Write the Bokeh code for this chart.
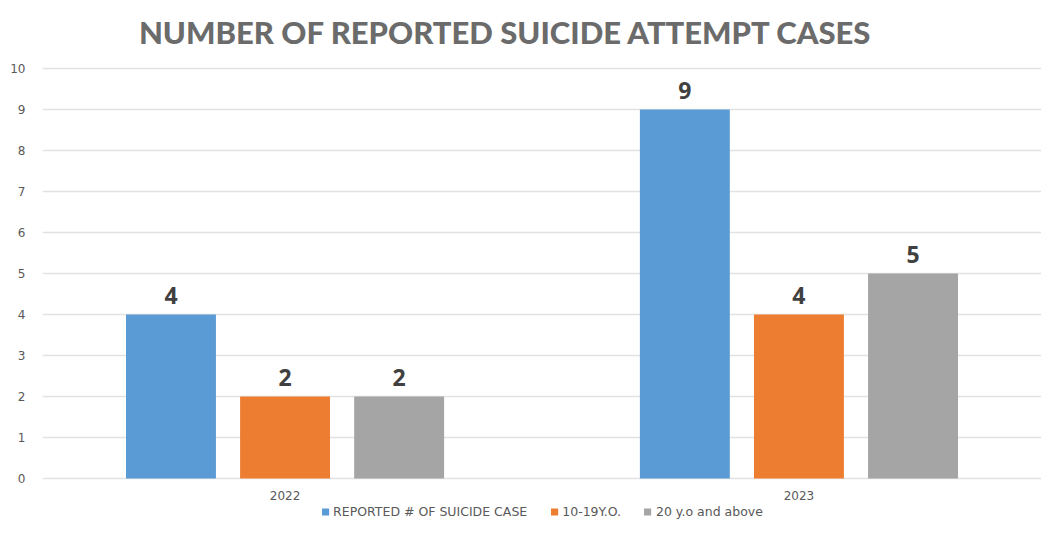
from bokeh.plotting import figure
from bokeh.models import (ColumnDataSource, FactorRange, Range1d, FixedTicker,
                          Legend, LegendItem, Label)
from bokeh.transform import dodge
from bokeh.core.properties import value
from bokeh.embed import file_html
from bokeh.resources import INLINE

# ---- data ----
years = ["2022", "2023"]
series_names = ["REPORTED # OF SUICIDE CASE", "10-19Y.O.", "20 y.o and above"]
reported = [4, 9]
age_10_19 = [2, 4]
age_20_up = [2, 5]
y_ticks = [0, 1, 2, 3, 4, 5, 6, 7, 8, 9, 10]
title_text = "NUMBER OF REPORTED SUICIDE ATTEMPT CASES"

colors = ["#5B9BD5", "#ED7D31", "#A5A5A5"]
offsets = [-0.222, 0.0, 0.222]
bar_w = 0.175

src = ColumnDataSource(dict(
    years=years,
    s0=reported, s1=age_10_19, s2=age_20_up,
    t0=[str(v) for v in reported],
    t1=[str(v) for v in age_10_19],
    t2=[str(v) for v in age_20_up],
))

W, H = 1041, 519
p = figure(width=W, height=H, output_backend="svg", toolbar_location=None,
           x_range=FactorRange(*years, range_padding=-0.028,
                               range_padding_units="absolute"),
           y_range=Range1d(-1.0, 11.659),
           min_border_left=42, min_border_right=0, min_border_top=0,
           min_border_bottom=0)
p.outline_line_color = None
p.background_fill_color = "white"
p.border_fill_color = "white"

renderers = []
for i, key in enumerate(["s0", "s1", "s2"]):
    r = p.vbar(x=dodge("years", offsets[i], range=p.x_range), top=key,
               width=bar_w, bottom=0, source=src, fill_color=colors[i],
               line_color=None)
    renderers.append(r)
    p.text(x=dodge("years", offsets[i], range=p.x_range), y=key,
           text="t%d" % i, source=src, text_align="center",
           text_baseline="bottom", y_offset=-11,
           text_font=value("Open Sans"), text_font_style="bold",
           text_font_size="23px", text_color="#404040")

# axes
p.yaxis.ticker = FixedTicker(ticks=y_ticks)
p.yaxis.axis_line_color = None
p.yaxis.major_tick_line_color = None
p.yaxis.minor_tick_line_color = None
p.yaxis.major_label_standoff = 11
p.yaxis.major_label_text_font = "DejaVu Sans"
p.yaxis.major_label_text_font_size = "12px"
p.yaxis.major_label_text_color = "#595959"

p.xaxis.fixed_location = 0
p.xaxis.axis_line_color = None
p.xaxis.major_tick_line_color = None
p.xaxis.minor_tick_line_color = None
p.xaxis.major_label_standoff = 6
p.xaxis.major_label_text_font = "DejaVu Sans"
p.xaxis.major_label_text_font_size = "12px"
p.xaxis.major_label_text_color = "#595959"

p.xgrid.grid_line_color = None
p.ygrid.grid_line_color = "#E2E2E2"
p.ygrid.grid_line_width = 1.5

# legend
legend = Legend(items=[LegendItem(label=series_names[i], renderers=[renderers[i]])
                       for i in range(3)],
                location="bottom_center", orientation="horizontal")
legend.border_line_color = None
legend.background_fill_alpha = 0
legend.label_text_font = "DejaVu Sans"
legend.label_text_font_size = "12.5px"
legend.label_text_color = "#595959"
legend.glyph_width = 9
legend.glyph_height = 9
legend.label_standoff = 4
legend.spacing = 22
legend.padding = 0
legend.margin = 0
p.add_layout(legend)

# title
title = Label(x=1.0, y=10, x_offset=-36, y_offset=37, text=title_text,
              text_align="center", text_baseline="middle",
              text_font="Lato Black", text_font_style="normal",
              text_font_size="31px", text_color="#6B6B6B")
p.add_layout(title)

open("out.html", "w").write(file_html(p, INLINE))
